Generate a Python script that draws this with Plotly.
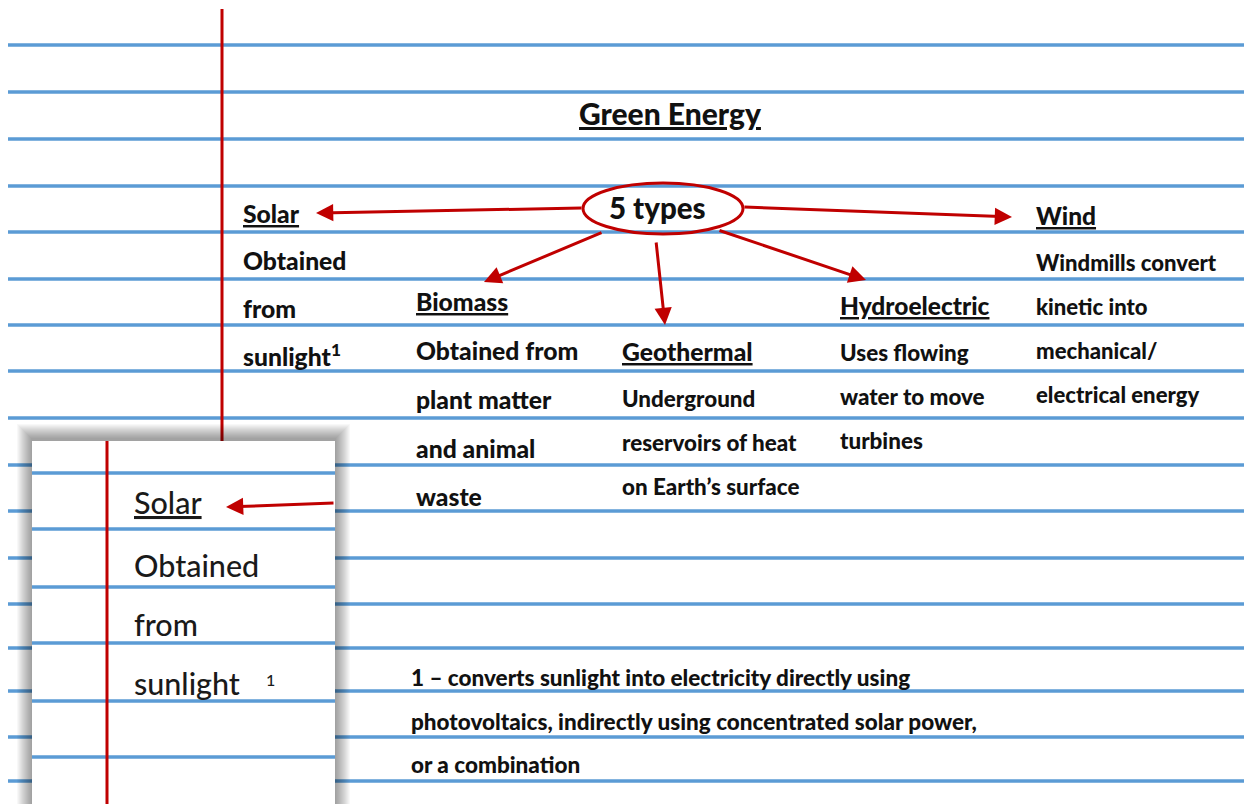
import plotly.graph_objects as go

# ---------------- data (text content) ----------------
title_text = "Green Energy"
hub_text = "5 types"
category_names = ["Solar", "Biomass", "Geothermal", "Hydroelectric", "Wind"]
category_desc = [
    ["Obtained", "from", "sunlight<sup>1</sup>"],
    ["Obtained from", "plant matter", "and animal", "waste"],
    ["Underground", "reservoirs of heat", "on Earth\u2019s surface"],
    ["Uses flowing", "water to move", "turbines"],
    ["Windmills convert", "kinetic into", "mechanical/", "electrical energy"],
]
footnote_lines = [
    "1 \u2013 converts sunlight into electricity directly using",
    "photovoltaics, indirectly using concentrated solar power,",
    "or a combination",
]
inset_lines_text = ["<u>Solar</u>", "Obtained", "from", "sunlight"]
inset_footnote_mark = "1"

# ---------------- layout (positions / styles) ----------------
W, H = 1244, 804
BLUE = "#5b9bd5"
RED = "#c00000"
FONT = "Lato"

rule_y = [45, 92, 139, 186, 232, 279, 325, 371, 418, 465, 511, 558, 604, 648, 691, 737, 781]
cat_x = [241, 414, 620, 838, 1034]
cat_head_y = [213, 301, 351, 305, 215]
cat_line_y = [
    [260, 308, 355],
    [350, 399, 448, 496],
    [398, 442, 486],
    [352, 396, 440],
    [262, 306, 350, 394],
]
cat_head_size = [24.7, 24.7, 24.7, 24.5, 24.5]
cat_body_size = [24.7, 24.7, 22.4, 22.4, 22.1]
foot_x = 409
foot_y = [677, 721, 764]

hub_box = (583, 183, 743, 234)
hub_center = (657, 207)
arrows = [  # (tail_x, tail_y, head_x, head_y)
    (583, 208, 316, 213),
    (743, 207, 1012, 217),
    (603, 232, 484, 282),
    (656, 241, 665, 325),
    (718, 230, 866, 280),
]

inset = (32, 441, 335, 804)
inset_rule_y = [473, 529, 587, 643, 701, 757]
inset_red_x = 107
inset_text_x = 132
inset_text_y = [502, 565, 624, 683]

shapes = []
for y in rule_y:
    shapes.append(dict(type="line", x0=8, x1=W, y0=y, y1=y, line=dict(color=BLUE, width=3.5)))
shapes.append(dict(type="line", x0=222, x1=222, y0=9, y1=H, line=dict(color=RED, width=3)))
shapes.append(dict(type="circle", x0=hub_box[0], y0=hub_box[1], x1=hub_box[2], y1=hub_box[3],
                   line=dict(color=RED, width=3)))
for i in range(15, 0, -1):
    shapes.append(dict(type="rect", x0=inset[0] - i, x1=inset[2] + i, y0=inset[1] - i - 2, y1=H + 5,
                       fillcolor="rgba(0,0,0,0.028)", line=dict(width=0)))
shapes.append(dict(type="rect", x0=inset[0], x1=inset[2], y0=inset[1], y1=H + 5,
                   fillcolor="white", line=dict(width=0)))
for y in inset_rule_y:
    shapes.append(dict(type="line", x0=inset[0], x1=inset[2], y0=y, y1=y, line=dict(color=BLUE, width=3.5)))
shapes.append(dict(type="line", x0=inset_red_x, x1=inset_red_x, y0=inset[1], y1=H,
                   line=dict(color=RED, width=3)))

ann = []


def txt(x, y, s, size, weight=900, xanchor="left", color="#111"):
    ann.append(dict(x=x, y=y, xref="x", yref="y", text=s,
                    showarrow=False, xanchor=xanchor, yanchor="middle",
                    font=dict(family=FONT, size=size, color=color, weight=weight)))


txt(670, 113, f"<u>{title_text}</u>", 30, xanchor="center")
txt(hub_center[0], hub_center[1], hub_text, 29.5, xanchor="center")
for i, name in enumerate(category_names):
    txt(cat_x[i], cat_head_y[i], f"<u>{name}</u>", cat_head_size[i])
    for s, y in zip(category_desc[i], cat_line_y[i]):
        txt(cat_x[i], y, s, cat_body_size[i])
for s, y in zip(footnote_lines, foot_y):
    txt(foot_x, y, s, 22.5)

for tx, ty, hx, hy in arrows:
    ann.append(dict(x=hx, y=hy, ax=tx, ay=ty, xref="x", yref="y", axref="x", ayref="y",
                    text="", showarrow=True, arrowhead=2, arrowsize=1.15, arrowwidth=3,
                    arrowcolor=RED, standoff=0, startstandoff=0))

for s, y in zip(inset_lines_text, inset_text_y):
    txt(inset_text_x, y, s, 30.5, weight=500, color="#1a1a1a")
txt(270, 679, inset_footnote_mark, 16, weight=500, color="#1a1a1a", xanchor="center")
ann.append(dict(x=226, y=507, ax=inset[2], ay=503, xref="x", yref="y", axref="x", ayref="y",
                text="", showarrow=True, arrowhead=2, arrowsize=1.15, arrowwidth=3,
                arrowcolor=RED, standoff=0, startstandoff=0))

fig = go.Figure()
fig.update_layout(
    width=W, height=H, margin=dict(l=0, r=0, t=0, b=0),
    paper_bgcolor="white", plot_bgcolor="white",
    xaxis=dict(range=[0, W], visible=False, fixedrange=True),
    yaxis=dict(range=[H, 0], visible=False, fixedrange=True),
    shapes=shapes, annotations=ann, showlegend=False,
)
fig.write_html("out.html", config={"displayModeBar": False},
               post_script="document.body.style.margin='0';document.body.style.overflow='hidden';")
